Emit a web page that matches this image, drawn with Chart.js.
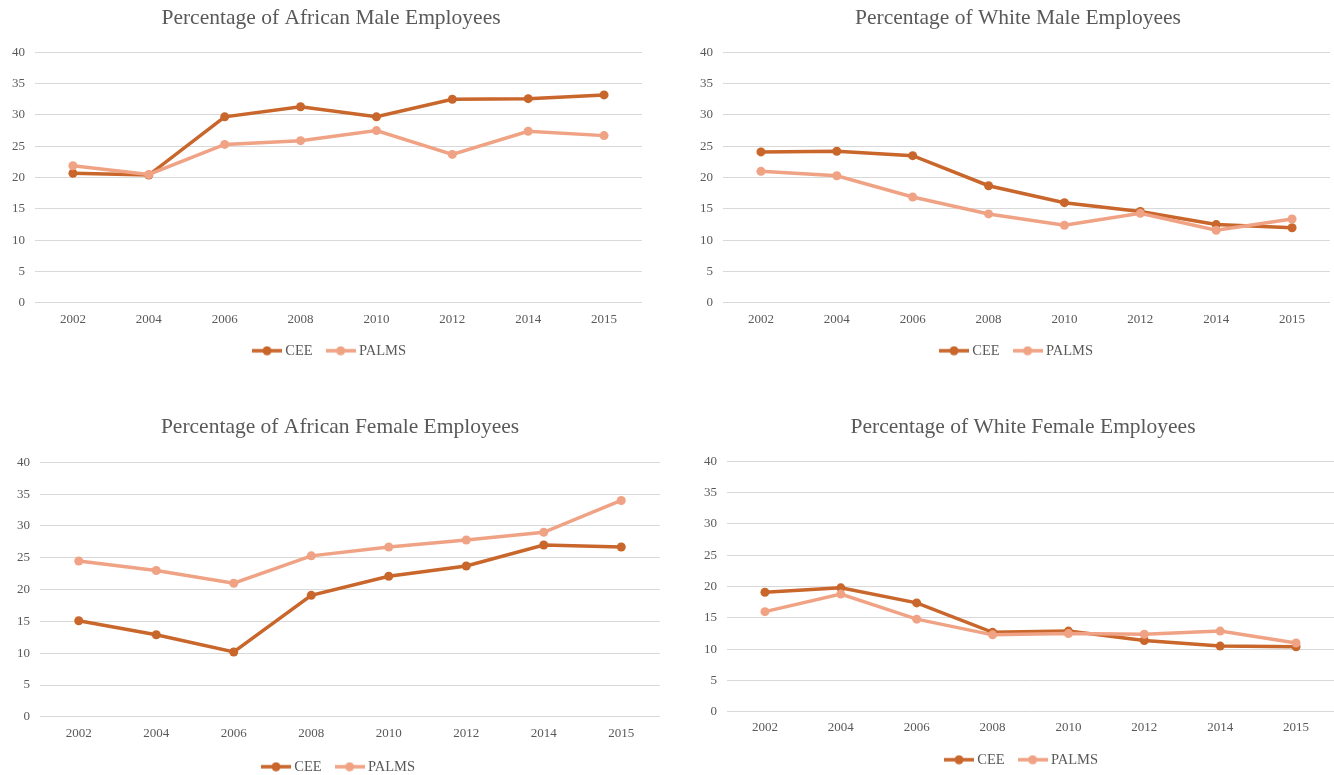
<!DOCTYPE html>
<html>
<head>
<meta charset="utf-8">
<title>Employment equity: CEE vs PALMS</title>
<script src="https://cdn.jsdelivr.net/npm/chart.js@4/dist/chart.umd.min.js"></script>
<style>
  html, body { margin: 0; padding: 0; background: #fff; }
  body { width: 1334px; height: 775px; position: relative; overflow: hidden; }
  canvas { position: absolute; }
</style>
</head>
<body>
<canvas id="africanMale"></canvas>
<canvas id="whiteMale"></canvas>
<canvas id="africanFemale"></canvas>
<canvas id="whiteFemale"></canvas>
<script>
const years = ['2002', '2004', '2006', '2008', '2010', '2012', '2014', '2015']
const seriesNames = ['CEE', 'PALMS']
const yTicks = [0, 5, 10, 15, 20, 25, 30, 35, 40]

const africanMaleCEE = [20.7, 20.4, 29.7, 31.3, 29.7, 32.5, 32.6, 33.2]
const africanMalePALMS = [21.9, 20.5, 25.3, 25.9, 27.5, 23.7, 27.4, 26.7]

const whiteMaleCEE = [24.1, 24.2, 23.5, 18.7, 16.0, 14.6, 12.5, 12.0]
const whiteMalePALMS = [21.0, 20.3, 16.9, 14.2, 12.4, 14.3, 11.6, 13.4]

const africanFemaleCEE = [15.1, 12.9, 10.2, 19.1, 22.1, 23.7, 27.0, 26.7]
const africanFemalePALMS = [24.5, 23.0, 21.0, 25.3, 26.7, 27.8, 29.0, 34.0]

const whiteFemaleCEE = [19.1, 19.8, 17.4, 12.7, 12.9, 11.4, 10.5, 10.4]
const whiteFemalePALMS = [16.0, 18.8, 14.8, 12.3, 12.5, 12.4, 12.9, 11.0]

const colours = ['#c9662b', '#f0a284']
const textColour = '#595959'
const serif = "'Liberation Serif', 'Times New Roman', serif"

// little line-with-dot swatch for the legend
function legendMarker( colour ) {
  const c = document.createElement( 'canvas' )
  c.width = 30
  c.height = 10
  const g = c.getContext( '2d' )
  g.strokeStyle = colour
  g.lineWidth = 3.5
  g.beginPath()
  g.moveTo( 0, 5 )
  g.lineTo( 30, 5 )
  g.stroke()
  g.fillStyle = colour
  g.beginPath()
  g.arc( 15, 5, 4.5, 0, Math.PI * 2 )
  g.fill()
  return c
}
const markers = colours.map( legendMarker )

function buildChart( id, box, title, cee, palms ) {
  const el = document.getElementById( id )
  el.width = box.w
  el.height = box.h
  el.style.left = box.x + 'px'
  el.style.top = box.y + 'px'

  // PALMS goes first so it is painted over CEE
  const datasets = [palms, cee].map( ( values, i ) => ( {
    label: seriesNames[1 - i],
    data: values,
    borderColor: colours[1 - i],
    backgroundColor: colours[1 - i],
    borderWidth: 3.5,
    pointRadius: 4.5,
    pointBorderWidth: 0,
    tension: 0,
  } ) )

  new Chart( el, {
    type: 'line',
    data: { labels: years, datasets: datasets },
    options: {
      responsive: false,
      animation: false,
      devicePixelRatio: 1,
      layout: { padding: box.pad },
      plugins: {
        title: {
          display: true,
          text: title,
          color: textColour,
          font: { family: serif, size: 21.5, weight: 'normal' },
          padding: { top: box.titleTop, bottom: box.titleBottom },
        },
        legend: {
          position: 'bottom',
          labels: {
            color: textColour,
            font: { family: serif, size: 14.5 },
            usePointStyle: true,
            pointStyleWidth: 22,
            padding: 17,
            generateLabels: () => seriesNames.map( ( name, i ) => ( {
              text: name,
              fontColor: textColour,
              fillStyle: colours[i],
              strokeStyle: colours[i],
              pointStyle: markers[i],
              lineWidth: 0,
              datasetIndex: 1 - i,
              hidden: false,
            } ) ),
          },
        },
        tooltip: { enabled: false },
      },
      scales: {
        x: {
          offset: true,
          grid: { display: false, drawTicks: false },
          border: { display: false },
          ticks: { color: textColour, font: { family: serif, size: 13 }, padding: box.xPad, maxRotation: 0 },
          afterFit: ( scale ) => { scale.height += box.xExtra },
        },
        y: {
          min: 0,
          max: 40,
          afterBuildTicks: ( scale ) => { scale.ticks = yTicks.map( ( v ) => ( { value: v } ) ) },
          grid: { color: '#d9d9d9', lineWidth: 1, drawTicks: false },
          border: { display: false },
          ticks: { color: textColour, font: { family: serif, size: 13 }, padding: 10 },
        },
        // empty right-hand gutter so the title and legend centre on the whole panel
        gutter: {
          type: 'linear',
          position: 'right',
          grid: { display: false, drawTicks: false },
          border: { display: false },
          ticks: { display: false },
          afterFit: ( scale ) => { scale.width = box.gutter },
        },
      },
    },
  } )
}

buildChart( 'africanMale',
  { x: 0, y: 0, w: 660, h: 368, pad: { left: 2, right: 0, top: 0, bottom: 0 }, gutter: 18, titleTop: 5.5, titleBottom: 21, xPad: 9, xExtra: -10 },
  'Percentage of African Male Employees', africanMaleCEE, africanMalePALMS )

buildChart( 'whiteMale',
  { x: 690, y: 0, w: 656, h: 368, pad: { left: 0, right: 0, top: 0, bottom: 0 }, gutter: 16, titleTop: 5.5, titleBottom: 21, xPad: 9, xExtra: -10 },
  'Percentage of White Male Employees', whiteMaleCEE, whiteMalePALMS )

buildChart( 'africanFemale',
  { x: 0, y: 408, w: 673, h: 376, pad: { left: 7, right: 0, top: 0, bottom: 0 }, gutter: 13, titleTop: 6.5, titleBottom: 22, xPad: 9, xExtra: -8 },
  'Percentage of African Female Employees', africanFemaleCEE, africanFemalePALMS )

buildChart( 'whiteFemale',
  { x: 690, y: 408, w: 662, h: 369, pad: { left: 4, right: 0, top: 0, bottom: 0 }, gutter: 18, titleTop: 6.5, titleBottom: 21, xPad: 8, xExtra: -8 },
  'Percentage of White Female Employees', whiteFemaleCEE, whiteFemalePALMS )
</script>
</body>
</html>
